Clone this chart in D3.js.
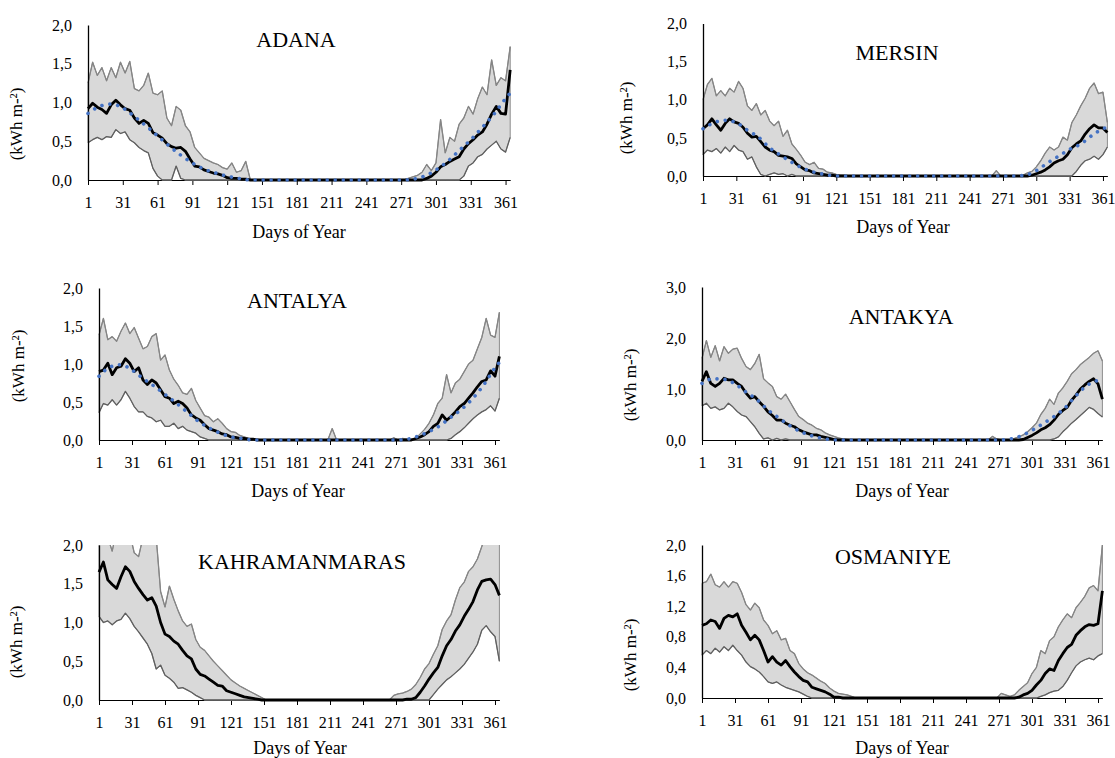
<!DOCTYPE html>
<html><head><meta charset="utf-8">
<script src="https://cdn.jsdelivr.net/npm/d3@7"></script>
<style>body{margin:0;background:#fff}</style>
</head><body>
<svg id="c" width="1115" height="758"></svg>
<script>
const days = [1,5,9,13,17,21,25,29,33,37,
41,45,49,53,57,61,65,69,73,77,
81,85,89,93,97,101,105,109,113,117,
121,125,129,133,137,141,145,149,153,157,
161,165,169,173,177,181,185,189,193,197,
201,205,209,213,217,221,225,229,233,237,
241,245,249,253,257,261,265,269,273,277,
281,285,289,293,297,301,305,309,313,317,
321,325,329,333,337,341,345,349,353,357,
361,365];
const trendDays = [1,11,21,31,41,51,61,71,81,91,101,111,121,131,141,151,161,171,181,191,201,211,221,231,241,251,261,271,281,291,301,311,321,331,341,351,361,365];
const xTicks = [1,31,61,91,121,151,181,211,241,271,301,331,361];
const yTicks2 = [0,0.5,1,1.5,2];
const yTicks3 = [0,1,2,3];
const yTicksO = [0,0.4,0.8,1.2,1.6,2];
const titles = ["ADANA","MERSIN","ANTALYA","ANTAKYA","KAHRAMANMARAS","OSMANIYE"];

const adanaMean = [0.92,0.99,0.94,0.91,0.86,0.97,1.03,0.97,0.92,0.90,
0.80,0.73,0.77,0.73,0.61,0.58,0.54,0.47,0.43,0.41,
0.42,0.37,0.27,0.18,0.17,0.13,0.11,0.09,0.08,0.06,
0.03,0.02,0.02,0.01,0.01,0,0,0,0,0,
0,0,0,0,0,0,0,0,0,0,
0,0,0,0,0,0,0,0,0,0,
0,0,0,0,0,0,0,0,0,0,
0,0,0,0.02,0.05,0.10,0.17,0.20,0.24,0.27,
0.30,0.40,0.47,0.52,0.58,0.62,0.72,0.85,0.95,0.86,
0.85,1.42];
const adanaUpper = [1.25,1.52,1.35,1.45,1.28,1.45,1.32,1.52,1.38,1.53,
1.18,1.15,1.22,1.38,1.12,1.10,1.15,0.80,0.70,0.95,
0.90,0.70,0.62,0.42,0.35,0.28,0.25,0.22,0.20,0.16,
0.14,0.22,0.10,0.12,0.24,0,0,0,0,0,
0,0,0,0,0,0,0,0,0,0,
0,0,0,0,0,0,0,0,0,0,
0,0,0,0,0,0,0,0,0,0.02,
0.04,0.06,0.10,0.20,0.12,0.22,0.78,0.35,0.55,0.50,
0.72,0.80,0.95,0.85,1.05,1.20,1.10,1.55,1.22,1.32,
1.28,1.72];
const adanaLower = [0.48,0.52,0.55,0.52,0.56,0.55,0.65,0.60,0.62,0.52,
0.48,0.42,0.38,0.35,0.15,0.05,0,0,0,0.18,
0.02,0,0,0,0,0,0,0,0,0,
0,0,0,0,0,0,0,0,0,0,
0,0,0,0,0,0,0,0,0,0,
0,0,0,0,0,0,0,0,0,0,
0,0,0,0,0,0,0,0,0,0,
0,0,0,0,0,0,0,0,0,0,
0,0.05,0.18,0.22,0.30,0.33,0.40,0.45,0.50,0.40,
0.36,0.55];
const adanaTrend = [0.86,0.95,0.98,0.93,0.82,0.70,0.57,0.44,0.32,0.22,
0.14,0.09,0.05,0.02,0,0,0,0,0,0,
0,0,0,0,0,0,0,0,0.01,0.05,
0.13,0.24,0.38,0.52,0.68,0.85,1.05,1.12];

const mersinMean = [0.62,0.67,0.75,0.67,0.60,0.69,0.75,0.71,0.69,0.64,
0.56,0.51,0.52,0.45,0.38,0.34,0.32,0.27,0.26,0.25,
0.23,0.16,0.12,0.08,0.07,0.04,0.03,0.02,0.01,0.01,
0,0,0,0,0,0,0,0,0,0,
0,0,0,0,0,0,0,0,0,0,
0,0,0,0,0,0,0,0,0,0,
0,0,0,0,0,0,0,0,0,0,
0,0,0,0,0.01,0.03,0.05,0.08,0.12,0.17,
0.20,0.22,0.28,0.37,0.42,0.46,0.55,0.62,0.67,0.63,
0.63,0.57];
const mersinUpper = [1.00,1.20,1.28,1.05,1.12,1.05,1.15,1.10,1.24,1.15,
0.92,0.86,0.95,0.80,0.86,0.72,0.66,0.72,0.52,0.60,
0.42,0.35,0.27,0.18,0.15,0.18,0.10,0.09,0.05,0.04,
0.02,0.01,0.01,0,0,0,0,0,0,0,
0,0,0,0,0,0,0,0,0,0,
0,0,0,0,0,0,0,0,0,0,
0,0,0,0,0,0,0.07,0,0,0,
0,0,0.01,0.04,0.06,0.12,0.20,0.30,0.38,0.34,
0.38,0.51,0.47,0.70,0.80,0.92,1.02,1.15,1.22,1.08,
1.10,0.70];
const mersinLower = [0.28,0.34,0.32,0.36,0.30,0.38,0.32,0.40,0.34,0.32,
0.22,0.25,0.12,0.02,0,0.02,0.04,0.02,0.03,0,
0.02,0,0,0,0,0,0,0,0,0,
0,0,0,0,0,0,0,0,0,0,
0,0,0,0,0,0,0,0,0,0,
0,0,0,0,0,0,0,0,0,0,
0,0,0,0,0,0,0,0,0,0,
0,0,0,0,0,0,0,0,0,0,
0,0,0,0,0.06,0.14,0.20,0.22,0.26,0.22,
0.28,0.38];
const mersinTrend = [0.62,0.70,0.73,0.70,0.60,0.51,0.37,0.27,0.18,0.10,
0.05,0.02,0,0,0,0,0,0,0,0,
0,0,0,0,0,0,0,0,0,0.01,
0.07,0.17,0.26,0.35,0.42,0.53,0.62,0.64];

const antalyaMean = [0.90,0.92,1.01,0.86,0.95,0.97,1.07,1.01,0.90,0.95,
0.79,0.73,0.79,0.75,0.66,0.57,0.55,0.48,0.51,0.48,
0.42,0.33,0.29,0.26,0.20,0.15,0.13,0.11,0.08,0.07,
0.04,0.035,0.02,0.02,0.01,0.01,0,0,0,0,
0,0,0,0,0,0,0,0,0,0,
0,0,0,0,0,0,0,0,0,0,
0,0,0,0,0,0,0,0,0,0,
0,0,0.02,0.04,0.07,0.11,0.18,0.22,0.33,0.26,
0.31,0.37,0.44,0.48,0.55,0.62,0.70,0.77,0.79,0.91,
0.84,1.10];
const antalyaUpper = [1.38,1.60,1.32,1.36,1.30,1.43,1.54,1.40,1.48,1.34,
1.20,1.23,1.36,1.40,1.05,1.12,0.92,0.80,0.72,0.62,
0.60,0.68,0.52,0.42,0.32,0.30,0.24,0.28,0.22,0.15,
0.11,0.10,0.06,0.04,0.02,0.01,0.01,0,0,0,
0,0,0,0,0,0,0,0,0,0,
0,0,0,0.15,0,0,0,0,0,0,
0,0,0,0,0,0,0,0.03,0,0.02,
0.01,0.01,0.02,0.08,0.14,0.22,0.33,0.48,0.55,0.86,
0.62,0.75,0.80,0.90,1.00,1.05,1.20,1.35,1.60,1.38,
1.35,1.68];
const antalyaLower = [0.36,0.48,0.46,0.53,0.46,0.53,0.64,0.55,0.44,0.37,
0.37,0.31,0.29,0.24,0.26,0.18,0.18,0.22,0.15,0.18,
0.13,0.11,0.09,0.04,0.02,0,0,0,0,0,
0,0,0,0,0,0,0,0,0,0,
0,0,0,0,0,0,0,0,0,0,
0,0,0,0,0,0,0,0,0,0,
0,0,0,0,0,0,0,0,0,0,
0,0,0,0,0,0,0,0,0,0,
0.02,0.07,0.11,0.16,0.22,0.28,0.33,0.37,0.40,0.45,
0.38,0.55];
const antalyaTrend = [0.84,0.96,0.99,0.92,0.81,0.71,0.60,0.49,0.37,0.25,
0.16,0.09,0.04,0.02,0,0,0,0,0,0,
0,0,0,0,0,0,0,0,0.01,0.05,
0.11,0.19,0.30,0.41,0.55,0.73,0.95,1.02];

const antakyaMean = [1.15,1.34,1.11,1.05,1.11,1.21,1.18,1.18,1.11,1.05,
0.92,0.82,0.85,0.75,0.66,0.55,0.48,0.39,0.39,0.33,
0.29,0.26,0.20,0.16,0.13,0.10,0.10,0.07,0.05,0.03,
0.01,0,0,0,0,0,0,0,0,0,
0,0,0,0,0,0,0,0,0,0,
0,0,0,0,0,0,0,0,0,0,
0,0,0,0,0,0,0,0,0,0,
0,0,0,0.01,0.05,0.09,0.14,0.20,0.24,0.30,
0.39,0.50,0.58,0.64,0.78,0.88,1.00,1.08,1.15,1.20,
1.10,0.80];
const antakyaUpper = [1.60,1.95,1.62,1.85,1.55,1.83,1.70,1.78,1.80,1.60,
1.44,1.38,1.50,1.68,1.20,1.12,1.05,0.85,0.80,0.90,
0.75,0.60,0.46,0.40,0.33,0.29,0.23,0.20,0.14,0.10,
0.07,0.04,0.02,0.01,0,0,0,0,0,0,
0,0,0,0,0,0,0,0,0,0,
0,0,0,0,0,0,0,0,0,0,
0,0,0,0,0,0,0.07,0.02,0,0,
0.01,0.03,0.06,0.10,0.16,0.24,0.33,0.50,0.62,0.80,
0.70,0.92,1.02,1.15,1.30,1.38,1.48,1.55,1.62,1.70,
1.75,1.55];
const antakyaLower = [0.67,0.72,0.62,0.65,0.59,0.62,0.72,0.65,0.56,0.49,
0.46,0.36,0.26,0.13,0.02,0.04,0,0.03,0,0.02,
0,0,0,0,0,0,0,0,0,0,
0,0,0,0,0,0,0,0,0,0,
0,0,0,0,0,0,0,0,0,0,
0,0,0,0,0,0,0,0,0,0,
0,0,0,0,0,0,0,0,0,0,
0,0,0,0,0,0,0,0,0,0,
0.02,0.06,0.16,0.24,0.33,0.40,0.48,0.56,0.64,0.60,
0.52,0.45];
const antakyaTrend = [1.11,1.20,1.19,1.10,0.94,0.79,0.59,0.43,0.28,0.16,
0.08,0.03,0,0,0,0,0,0,0,0,
0,0,0,0,0,0,0,0,0.02,0.08,
0.19,0.32,0.46,0.63,0.87,1.07,1.17,1.20];

const kahramanMean = [1.65,1.78,1.55,1.49,1.44,1.59,1.72,1.66,1.53,1.44,
1.36,1.29,1.32,1.21,1.00,0.85,0.82,0.76,0.72,0.64,
0.57,0.53,0.40,0.33,0.31,0.27,0.23,0.19,0.18,0.12,
0.10,0.08,0.06,0.04,0.03,0.02,0.01,0,0,0,
0,0,0,0,0,0,0,0,0,0,
0,0,0,0,0,0,0,0,0,0,
0,0,0,0,0,0,0,0,0,0,
0.01,0.01,0.03,0.10,0.18,0.27,0.35,0.42,0.57,0.70,
0.78,0.89,0.97,1.08,1.17,1.27,1.42,1.53,1.55,1.56,
1.49,1.35];
const kahramanUpper = [1.98,2.15,2.10,1.92,2.20,2.10,2.05,2.15,1.90,1.85,
2.10,2.20,2.30,2.10,1.40,1.20,1.47,1.30,1.15,1.02,
0.95,0.98,0.78,0.68,0.64,0.57,0.50,0.44,0.38,0.32,
0.26,0.22,0.18,0.15,0.12,0.09,0.06,0.03,0,0,
0,0,0,0,0,0,0,0,0,0,
0,0,0,0,0,0,0,0,0,0,
0,0,0,0,0,0,0,0.06,0.08,0.09,
0.11,0.14,0.20,0.29,0.40,0.47,0.59,0.70,0.91,1.02,
1.10,1.29,1.45,1.52,1.66,1.72,1.82,1.98,2.15,2.25,
2.20,2.10];
const kahramanLower = [1.08,1.00,1.02,0.97,1.02,1.04,1.12,1.05,0.95,0.88,
0.80,0.72,0.60,0.40,0.45,0.32,0.28,0.23,0.15,0.16,
0.13,0.10,0.06,0.03,0,0,0,0,0,0,
0,0,0,0,0,0,0,0,0,0,
0,0,0,0,0,0,0,0,0,0,
0,0,0,0,0,0,0,0,0,0,
0,0,0,0,0,0,0,0,0,0,
0,0,0,0,0,0,0.07,0.14,0.20,0.26,
0.30,0.35,0.40,0.46,0.54,0.62,0.72,0.90,0.96,0.88,
0.82,0.50];

const osmaniyeMean = [0.95,0.97,1.02,1.00,0.91,1.04,1.08,1.06,1.10,0.95,
0.86,0.76,0.82,0.76,0.62,0.47,0.54,0.47,0.43,0.49,
0.41,0.34,0.28,0.23,0.21,0.14,0.12,0.10,0.08,0.05,
0.01,0.01,0,0,0,0,0,0,0,0,
0,0,0,0,0,0,0,0,0,0,
0,0,0,0,0,0,0,0,0,0,
0,0,0,0,0,0,0,0,0,0,
0,0,0.01,0.04,0.06,0.10,0.17,0.23,0.32,0.38,
0.36,0.49,0.58,0.66,0.70,0.82,0.88,0.93,0.96,0.95,
0.97,1.40];
const osmaniyeUpper = [1.50,1.52,1.62,1.48,1.45,1.52,1.45,1.52,1.50,1.38,
1.22,1.15,1.24,1.18,1.02,0.95,0.84,0.88,0.76,0.78,
0.62,0.58,0.45,0.38,0.33,0.30,0.26,0.22,0.19,0.13,
0.09,0.06,0.05,0.04,0.02,0,0,0,0,0,
0,0,0,0,0,0,0,0,0,0,
0,0,0,0,0,0,0,0,0,0,
0,0,0,0,0,0,0,0,0.06,0.04,
0.02,0.04,0.10,0.15,0.20,0.32,0.40,0.62,0.58,0.75,
0.80,0.93,1.02,1.10,1.05,1.18,1.25,1.33,1.44,1.47,
1.40,2.00];
const osmaniyeLower = [0.56,0.62,0.58,0.65,0.60,0.67,0.62,0.69,0.62,0.56,
0.47,0.41,0.38,0.34,0.28,0.21,0.19,0.21,0.17,0.14,
0.12,0.10,0.08,0.05,0.02,0,0,0,0,0,
0,0,0,0,0,0,0,0,0,0,
0,0,0,0,0,0,0,0,0,0,
0,0,0,0,0,0,0,0,0,0,
0,0,0,0,0,0,0,0,0,0,
0,0,0,0,0,0,0,0.02,0.04,0.07,
0.09,0.10,0.15,0.23,0.33,0.42,0.47,0.50,0.52,0.50,
0.55,0.58];

// layout (pixel geometry of each panel)
const panels = [
 {t:0, mean:adanaMean, up:adanaUpper, lo:adanaLower, tr:adanaTrend, yMax:2, yT:yTicks2,
  x0:88, x1:510.2, y0:25, y1:180, title:[296,40], xlab:[299,232], ylab:[16,124]},
 {t:1, mean:mersinMean, up:mersinUpper, lo:mersinLower, tr:mersinTrend, yMax:2, yT:yTicks2,
  x0:703, x1:1107.4, y0:23.5, y1:176, title:[897,52.5], xlab:[903,227.5], ylab:[626,118]},
 {t:2, mean:antalyaMean, up:antalyaUpper, lo:antalyaLower, tr:antalyaTrend, yMax:2, yT:yTicks2,
  x0:99, x1:499.4, y0:288, y1:440, title:[297,300.5], xlab:[298,491.5], ylab:[18,366]},
 {t:3, mean:antakyaMean, up:antakyaUpper, lo:antakyaLower, tr:antakyaTrend, yMax:3, yT:yTicks3,
  x0:702, x1:1102.4, y0:287, y1:440, title:[901,316.5], xlab:[902,491.5], ylab:[630,385]},
 {t:4, mean:kahramanMean, up:kahramanUpper, lo:kahramanLower, tr:null, yMax:2, yT:yTicks2,
  x0:99, x1:499.4, y0:545, y1:700, title:[302,562], xlab:[300,748], ylab:[16,642]},
 {t:5, mean:osmaniyeMean, up:osmaniyeUpper, lo:osmaniyeLower, tr:null, yMax:2, yT:yTicksO,
  x0:702, x1:1102.4, y0:545, y1:698, title:[893,556.5], xlab:[902,748], ylab:[630,655]}
];

const FONT = "'Liberation Serif','Times New Roman',Times,serif";
const loc = d3.formatLocale({decimal:",", thousands:".", grouping:[3], currency:["",""]});
const f1 = loc.format(".1f");
const svg = d3.select("#c");

panels.forEach((p,k)=>{
  const x = d3.scaleLinear().domain([1,365]).range([p.x0,p.x1]);
  const y = d3.scaleLinear().domain([0,p.yMax]).range([p.y1,p.y0]);
  const g = svg.append("g");
  const cid = "clip"+k;
  g.append("clipPath").attr("id",cid).append("rect")
    .attr("x",p.x0-2).attr("y",p.y0).attr("width",p.x1-p.x0+5).attr("height",p.y1-p.y0+4);

  // axes first (series are painted over them, as in the source)
  const xa = g.append("g").attr("transform",`translate(0,${p.y1})`)
    .call(d3.axisBottom(x).tickValues(xTicks).tickSize(5).tickSizeOuter(0).tickPadding(12).tickFormat(d3.format("d")));
  xa.attr("font-family",FONT).attr("font-size",16);
  xa.select(".domain").attr("stroke","#000").attr("stroke-width",1.2);
  xa.selectAll(".tick line").attr("stroke","#000");
  xa.selectAll(".tick text").attr("fill","#000");

  const data = days.map((d,i)=>({day:d, m:p.mean[i], hi:p.up[i], lo:p.lo[i]}));
  const dg = g.append("g").attr("clip-path",`url(#${cid})`);
  dg.append("path").datum(data)
    .attr("d", d3.area().x(d=>x(d.day)).y0(d=>y(d.lo)).y1(d=>y(d.hi)))
    .attr("fill","#d9d9d9").attr("stroke","#8c8c8c").attr("stroke-width",1);
  dg.append("path").datum(data)
    .attr("d", d3.line().x(d=>x(d.day)).y(d=>y(d.hi)))
    .attr("fill","none").attr("stroke","#858585").attr("stroke-width",1.3).attr("stroke-linejoin","round");
  dg.append("path").datum(data)
    .attr("d", d3.line().x(d=>x(d.day)).y(d=>y(d.lo)))
    .attr("fill","none").attr("stroke","#606060").attr("stroke-width",1.3).attr("stroke-linejoin","round");
  dg.append("path").datum(data)
    .attr("d", d3.line().x(d=>x(d.day)).y(d=>y(d.m)))
    .attr("fill","none").attr("stroke","#000").attr("stroke-width",2.8).attr("stroke-linejoin","round");

  const ya = g.append("g").attr("transform",`translate(${p.x0},0)`)
    .call(d3.axisLeft(y).tickValues(p.yT).tickSize(0).tickSizeOuter(0).tickPadding(16).tickFormat(f1));
  ya.attr("font-family",FONT).attr("font-size",16);
  ya.select(".domain").attr("stroke","#000").attr("stroke-width",1.3);
  ya.selectAll(".tick text").attr("fill","#000");

  if (p.tr) {
    const td = trendDays.map((d,i)=>({day:d, v:p.tr[i]}));
    g.append("g").attr("clip-path",`url(#${cid})`).append("path").datum(td)
      .attr("d", d3.line().curve(d3.curveMonotoneX).x(d=>x(d.day)).y(d=>y(d.v)))
      .attr("fill","none").attr("stroke","#4472c4").attr("stroke-width",3.6)
      .attr("stroke-linecap","round").attr("stroke-dasharray","0.01 8");
  }
  // texts
  g.append("text").attr("x",p.title[0]).attr("y",p.title[1]+0.33*22).attr("text-anchor","middle")
    .attr("font-family",FONT).attr("font-size",22).attr("fill","#000").text(titles[p.t]);
  g.append("text").attr("x",p.xlab[0]).attr("y",p.xlab[1]+0.33*18).attr("text-anchor","middle")
    .attr("font-family",FONT).attr("font-size",18).attr("fill","#000").text("Days of Year");
  g.append("text").attr("transform",`translate(${p.ylab[0]+0.33*17},${p.ylab[1]}) rotate(-90)`)
    .attr("text-anchor","middle").attr("font-family",FONT).attr("font-size",17).attr("fill","#000")
    .text("(kWh m-²)");
});
</script>
</body></html>
